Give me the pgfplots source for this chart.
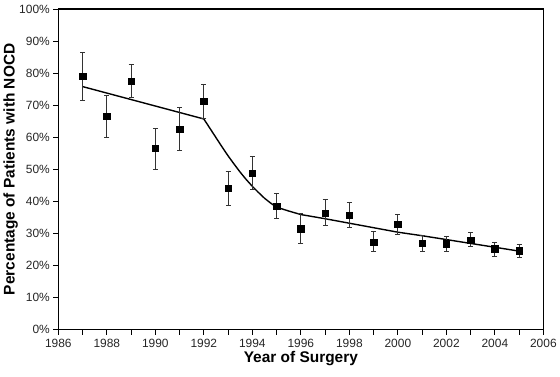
\documentclass[border=0pt]{standalone}
\usepackage{pgfplots}
\pgfplotsset{compat=1.18}
\usepackage{pgfplotstable}
\usepackage{fontspec}
\setmainfont{Liberation Sans}
\pgfplotstableread{
x y ep em
1987 79.1 7.5 7.5
1988 66.6 6.6 6.7
1989 77.4 5.2 5.1
1990 56.6 6.3 6.5
1991 62.6 6.7 6.8
1992 71.2 5.2 5.3
1993 44.2 5.3 5.4
1994 48.8 5.2 5.0
1995 38.5 4.0 3.7
1996 31.5 4.8 4.6
1997 36.4 4.2 3.9
1998 35.7 3.9 3.8
1999 27.3 3.3 3.0
2000 32.8 3.1 3.0
2001 27.0 2.3 2.7
2002 26.8 2.4 2.5
2003 28.0 2.4 2.1
2004 25.2 2.1 2.4
2005 24.6 2.0 2.2
}\pts
\pgfplotstableread{
x y
1987 75.8
1992 65.7
1992.25 62.8
1992.5 59.9
1992.75 57.0
1993 54.2
1993.25 51.6
1993.5 49.1
1993.75 46.8
1994 44.7
1994.25 42.8
1994.5 41.0
1994.75 39.5
1995 38.2
1995.5 37.0
1996 35.9
1997 34.6
1998 33.2
1999 31.8
2000 30.4
2001 29.3
2002 28.1
2003 26.9
2004 25.7
2005 24.5
}\fit
\begin{document}
\begin{tikzpicture}
\begin{axis}[
  scale only axis,
  width=487pt, height=322pt,
  xmin=1986, xmax=2006, ymin=0, ymax=100,
  xtick={1986,1988,...,2006},
  minor x tick num=1,
  ytick={0,10,...,100},
  yticklabel={\pgfmathprintnumber{\tick}\%},
  /pgf/number format/1000 sep={},
  /pgf/number format/assume math mode=true,
  xtick pos=bottom, ytick pos=left,
  tick align=outside,
  major tick length=5pt, minor tick length=5pt,
  every tick/.style={black, line width=0.8pt},
  axis line style={line width=1.3pt},
  tick label style={font=\fontsize{12}{14}\selectfont, text=black!85},
  xticklabel style={yshift=-1pt},
  xlabel={\textbf{Year of Surgery}},
  ylabel={\textbf{Percentage of Patients with NOCD}},
  label style={font=\fontsize{15.5}{18}\selectfont},
  xlabel style={at={(axis description cs:0.5,-0.1025)}, anchor=base},
  ylabel style={at={(axis description cs:-0.0903,0.5)}, anchor=base, rotate=0},
]
\addplot[black, line width=1.4pt] table[x=x,y=y] {\fit};
\addplot[black, only marks, mark=square*, mark size=3.2pt,
  error bars/.cd, y dir=both, y explicit,
  error bar style={line width=0.9pt, black!80},
  error mark options={rotate=90, mark size=2.5pt, line width=0.8pt, black!80}]
  table[x=x, y=y, y error plus=ep, y error minus=em] {\pts};
\end{axis}
\path[use as bounding box] ([shift={(-57pt,-47pt)}]current axis.south west) rectangle ([shift={(16pt,9pt)}]current axis.north east);
\end{tikzpicture}
\end{document}
